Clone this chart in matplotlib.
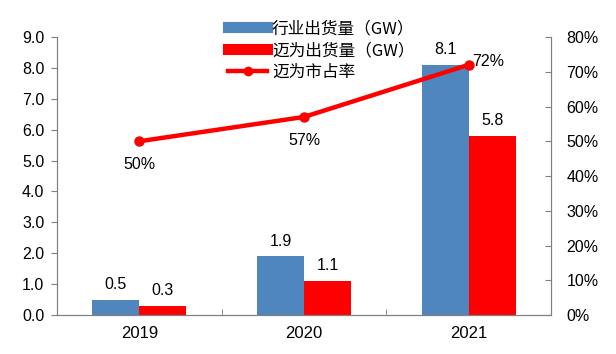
import numpy as np
import matplotlib
matplotlib.use("Agg")
from matplotlib import pyplot as plt
from matplotlib.lines import Line2D

plt.rcParams['font.family'] = ['Liberation Sans', 'Noto Sans CJK SC', 'DejaVu Sans']

years = ["2019", "2020", "2021"]
industry = [0.5, 1.9, 8.1]
maiwei = [0.3, 1.1, 5.8]
share = [0.50, 0.57, 0.72]

blue = "#4F86BE"
red = "#FF0000"
grey = "#808080"

fig = plt.figure(figsize=(6.16, 3.54), dpi=100)
ax = fig.add_axes([0.0925, 0.110, 0.802, 0.7855])
ax2 = ax.twinx()

x = np.arange(len(years))
w = 0.285
ax.bar(x - w / 2, industry, w, color=blue, zorder=2)
ax.bar(x + w / 2, maiwei, w, color=red, zorder=2)

for i in range(len(years)):
    ax.text(x[i] - w / 2, industry[i] + 0.25, f"{industry[i]:.1f}", ha="center", va="bottom", fontsize=11.5)
    ax.text(x[i] + w / 2, maiwei[i] + 0.25, f"{maiwei[i]:.1f}", ha="center", va="bottom", fontsize=11.5)

ax2.plot(x, share, color=red, lw=3.2, marker="o", ms=6.5, zorder=3)
ax2.text(x[0], share[0] - 0.045, "50%", ha="center", va="top", fontsize=11.5)
ax2.text(x[1], share[1] - 0.045, "57%", ha="center", va="top", fontsize=11.5)
ax2.text(x[2] + 0.12, share[2] + 0.01, "72%", ha="center", va="center", fontsize=11.5)

ax.set_xlim(-0.5, 2.5)
ax.set_ylim(0, 9)
ax.set_yticks(np.arange(0, 9.1, 1))
ax.set_yticklabels([f"{v:.1f}" for v in np.arange(0, 9.1, 1)])
ax2.set_ylim(0, 0.8)
ax2.set_yticks(np.arange(0, 0.81, 0.1))
ax2.set_yticklabels([f"{int(round(v * 100))}%" for v in np.arange(0, 0.81, 0.1)])

ax.set_xticks(x)
ax.set_xticklabels(years)
ax.set_xticks([0.5, 1.5], minor=True)
ax.tick_params(axis="x", which="major", length=0, labelsize=12, pad=8)
ax.tick_params(axis="x", which="minor", length=4, direction="in", color=grey)
ax.tick_params(axis="y", length=4, color=grey, labelsize=11.5, pad=5)
ax2.tick_params(axis="y", length=4, direction="in", color=grey, labelsize=11.5, pad=11)

for a in (ax, ax2):
    a.spines["top"].set_visible(False)
    for s in ("left", "right", "bottom"):
        a.spines[s].set_color(grey)

handles = [
    Line2D([0], [0], color=blue, lw=8),
    Line2D([0], [0], color=red, lw=8),
    Line2D([0], [0], color=red, lw=3.2, marker="o", ms=6),
]
labels = ["行业出货量（GW）", "迈为出货量（GW）", "迈为市占率"]
leg = fig.legend(handles, labels, loc="upper left", bbox_to_anchor=(0.36, 0.962),
                 frameon=False, handlelength=2.3, handletextpad=0.3,
                 labelspacing=0.3, borderaxespad=0,
                 prop={'family': ['Noto Sans CJK SC', 'Liberation Sans'], 'size': 12})

fig.savefig("out.png", dpi=100)
